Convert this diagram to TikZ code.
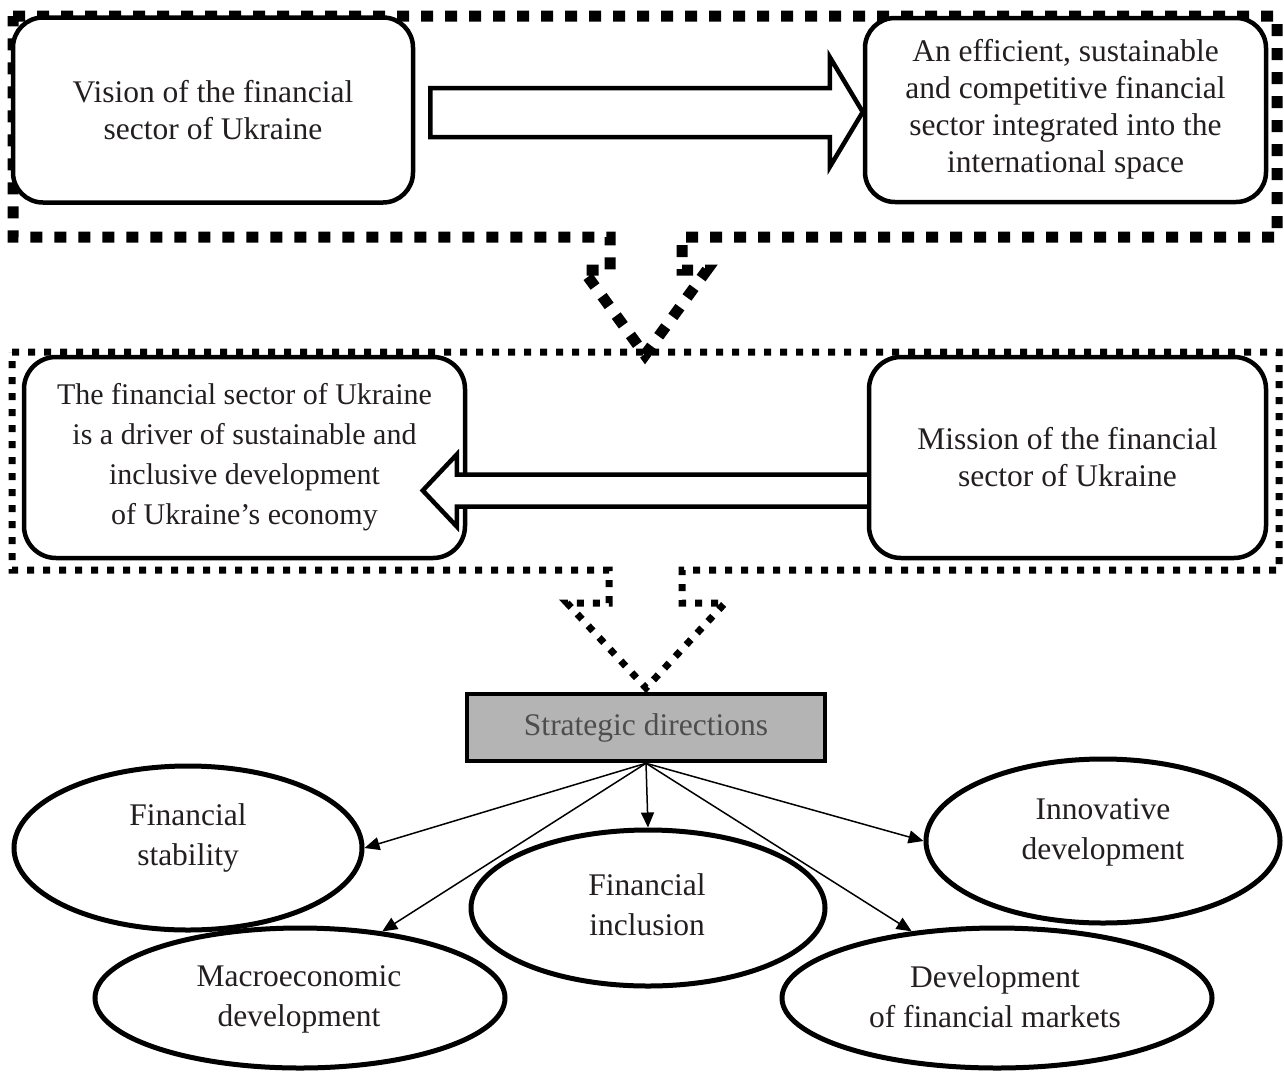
\documentclass[tikz,border=0pt]{standalone}
\usepackage{fontspec}
\setmainfont{Liberation Serif}
\usetikzlibrary{shapes.geometric,arrows.meta,calc}
\definecolor{txt}{HTML}{231F20}
\definecolor{sdfill}{HTML}{B4B4B4}
\definecolor{sdtxt}{HTML}{4D4D4D}
\begin{document}
\begin{tikzpicture}[x=1pt,y=-1pt,
  every node/.style={font=\fontsize{31.5}{37}\selectfont, text=txt, align=center},
  ovaltext/.style={font=\fontsize{31.5}{40}\selectfont},
  frameA/.style={line width=11pt, dash pattern=on 12pt off 12pt},
  frameB/.style={line width=7pt, dash pattern=on 7pt off 9pt},
  rbox/.style={draw, line width=4.5pt, rounded corners=30pt, fill=white, inner sep=0pt},
  blockarrow/.style={draw, line width=4.5pt, fill=white, line join=miter},
  oval/.style={draw, ellipse, line width=5pt, inner sep=0pt},
  link/.style={line width=1.5pt, -{Triangle[length=15pt,width=13pt]}},
]
\useasboundingbox[fill=white] (0,0) rectangle (1284,1071);

% dotted frames with integrated down arrows
\draw[frameA] (13,16) -- (1277,16) -- (1277,237) -- (682,237) -- (682,270) -- (707,270)
  -- (645,355) -- (583,270) -- (610,270) -- (610,237) -- (13,237) -- cycle;
\draw[frameB] (12,352) -- (1279,352) -- (1279,570) -- (682,570) -- (682,603) -- (725,603)
  -- (646,688) -- (567,603) -- (609,603) -- (609,570) -- (12,570) -- cycle;

% boxes
\node[rbox, minimum width=400pt, minimum height=185pt] (vision) at (213,110)
  {Vision of the financial\\sector of Ukraine};
\node[rbox, minimum width=401pt, minimum height=184pt] (goal) at (1065.5,110)
  {\raisebox{-4pt}{\begin{tabular}{@{}c@{}}An efficient, sustainable\\and competitive financial\\sector integrated into the\\international space\end{tabular}}};
\node[rbox, minimum width=441pt, minimum height=201pt, rounded corners=32pt,
  font=\fontsize{30}{40}\selectfont] (driver) at (244.5,457.5)
  {The financial sector of Ukraine\\is a driver of sustainable and\\inclusive development\\of Ukraine’s economy};
\node[rbox, minimum width=397pt, minimum height=201pt, rounded corners=32pt] (mission) at (1067.5,457.5)
  {Mission of the financial\\sector of Ukraine};

% block arrows
\draw[blockarrow] ($(vision.east)+(15,-22)$) -- ($(goal.west)+(-33,-22)$) -- ($(goal.west)+(-33,-53)$)
  -- ($(goal.west)+(0,2)$) -- ($(goal.west)+(-33,57)$) -- ($(goal.west)+(-33,27)$)
  -- ($(vision.east)+(15,27)$) -- cycle;
\draw[blockarrow] ($(mission.west)+(0,17)$) -- ($(mission.west)+(-410,17)$) -- ($(mission.west)+(-410,-3)$)
  -- ($(mission.west)+(-444,33)$) -- ($(mission.west)+(-410,69)$) -- ($(mission.west)+(-410,49)$)
  -- ($(mission.west)+(0,49)$);

% strategic directions
\node[draw, line width=4.5pt, fill=sdfill, text=sdtxt, minimum width=358pt, minimum height=67pt, inner sep=0pt]
  (sd) at (646,727.5) {Strategic directions};

% ellipses
\node[oval, minimum width=348pt, minimum height=164pt] (e1) at (188,848) {};
\node[oval, minimum width=410pt, minimum height=140pt] (e2) at (300,998) {};
\node[oval, minimum width=354pt, minimum height=156pt] (e3) at (648,908) {};
\node[oval, minimum width=430pt, minimum height=140pt] (e4) at (997,998) {};
\node[oval, minimum width=354pt, minimum height=164pt] (e5) at (1103,841) {};

\node[ovaltext] (e1t) at (188,838) {Financial\\stability};
\node[ovaltext] (e2t) at (299,999) {Macroeconomic\\development};
\node[ovaltext] (e3t) at (647,905) {Financial\\inclusion};
\node[ovaltext] (e4t) at (995,997) {Development\\of financial markets};
\node[ovaltext] (e5t) at (1103,832) {Innovative\\development};

% connectors
\draw[link] (sd.south) -- (e1.east);
\draw[link] (sd.south) -- (e2.39);
\draw[link] (sd.south) -- (e3.north);
\draw[link] (sd.south) -- (e4.142);
\draw[link] (sd.south) -- (e5.west);
\end{tikzpicture}
\end{document}
